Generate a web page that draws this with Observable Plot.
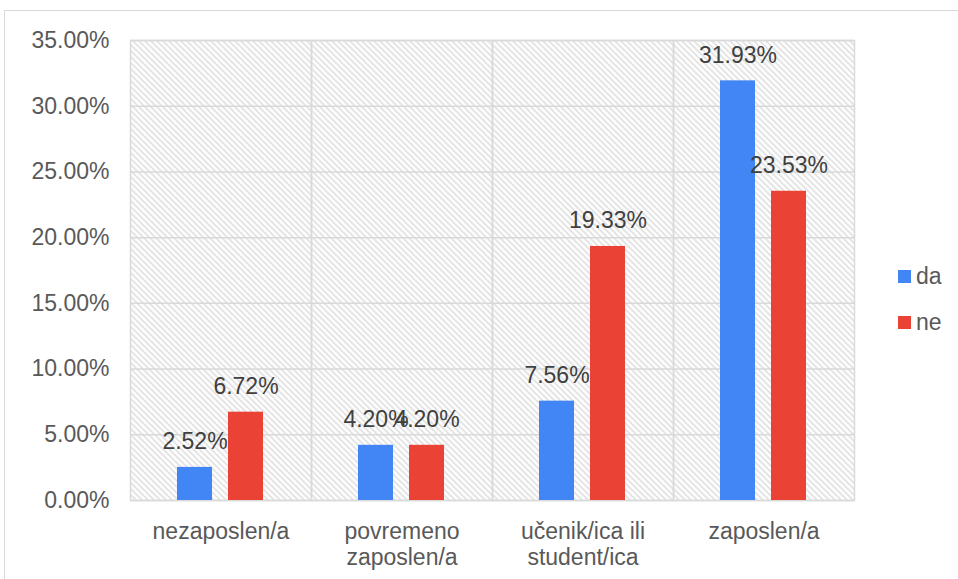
<!DOCTYPE html>
<html>
<head>
<meta charset="utf-8">
<script src="https://cdn.jsdelivr.net/npm/d3@7"></script>
<script src="https://cdn.jsdelivr.net/npm/@observablehq/plot@0.6"></script>
<style>
  html, body { margin: 0; padding: 0; background: #fff; }
  body { width: 958px; height: 579px; position: relative; overflow: hidden; font-family: "Liberation Sans", Arial, sans-serif; }
  #border { position: absolute; left: 4px; top: 10px; width: 960px; height: 580px; border-left: 1px solid #d9d9d9; border-top: 1px solid #d9d9d9; }
  #chart { position: absolute; left: 0; top: 0; }
  .leg { position: absolute; left: 898px; display: flex; align-items: center; font-size: 23px; line-height: 26px; color: #595959; }
  .leg span.sw { display: inline-block; width: 13px; height: 13px; margin-right: 5px; }
</style>
</head>
<body>
<div id="border"></div>
<div id="chart"></div>
<div class="leg" style="top:263px"><span class="sw" style="background:#4285f4"></span>da</div>
<div class="leg" style="top:309px"><span class="sw" style="background:#ea4335"></span>ne</div>
<script>
const categories = ["nezaposlen/a", "povremeno\nzaposlen/a", "učenik/ica ili\nstudent/ica", "zaposlen/a"];
const series = ["da", "ne"];
const daValues = [0.0252, 0.0420, 0.0756, 0.3193];
const neValues = [0.0672, 0.0420, 0.1933, 0.2353];
const yTicks = [0, 0.05, 0.10, 0.15, 0.20, 0.25, 0.30, 0.35];
const colors = ["#4285f4", "#ea4335"];

const data = [];
categories.forEach((c, i) => {
  data.push({cat: c, series: "da", value: daValues[i]});
  data.push({cat: c, series: "ne", value: neValues[i]});
});

const fmt = d3.format(".2%");

const chart = Plot.plot({
  width: 958,
  height: 579,
  marginLeft: 128,
  marginRight: 103,
  marginTop: 40,
  marginBottom: 79,
  style: {fontFamily: "'Liberation Sans', Arial, sans-serif", fontSize: "23px", background: "transparent"},
  fx: {domain: categories, padding: 0, label: null, axis: null},
  x: {domain: series, paddingInner: 0.3077, paddingOuter: 0.9013, axis: null},
  y: {domain: [0, 0.35], label: null},
  color: {domain: series, range: colors},
  marks: [
    Plot.frame({fill: "url(#hatch)", stroke: "none"}),
    Plot.gridY(yTicks, {stroke: "#d9d9d9", strokeOpacity: 1, strokeWidth: 1.5}),
    Plot.frame({stroke: "#d9d9d9", strokeWidth: 1.5}),
    Plot.barY(data, {fx: "cat", x: "series", y: "value", fill: "series"}),
    Plot.text(data, {fx: "cat", x: "series", y: "value", text: d => fmt(d.value), lineAnchor: "bottom", dy: -18, fill: "#404040", fontSize: 23}),
    Plot.axisY(yTicks, {tickFormat: fmt, tickSize: 0, tickPadding: 21, fill: "#595959", fontSize: 23}),
    Plot.axisFx({anchor: "bottom", tickSize: 0, tickPadding: 21, fill: "#595959", fontSize: 23, lineHeight: 1.1, label: null})
  ]
});

const ns = "http://www.w3.org/2000/svg";
const defs = document.createElementNS(ns, "defs");
defs.innerHTML = '<pattern id="hatch" patternUnits="userSpaceOnUse" width="6" height="6">' +
  '<path d="M-3,3L3,9M0,0L6,6M3,-3L9,3" stroke="#d6d6d6" stroke-width="1.3" fill="none"/></pattern>';
chart.insertBefore(defs, chart.firstChild);
document.getElementById("chart").appendChild(chart);
</script>
</body>
</html>
